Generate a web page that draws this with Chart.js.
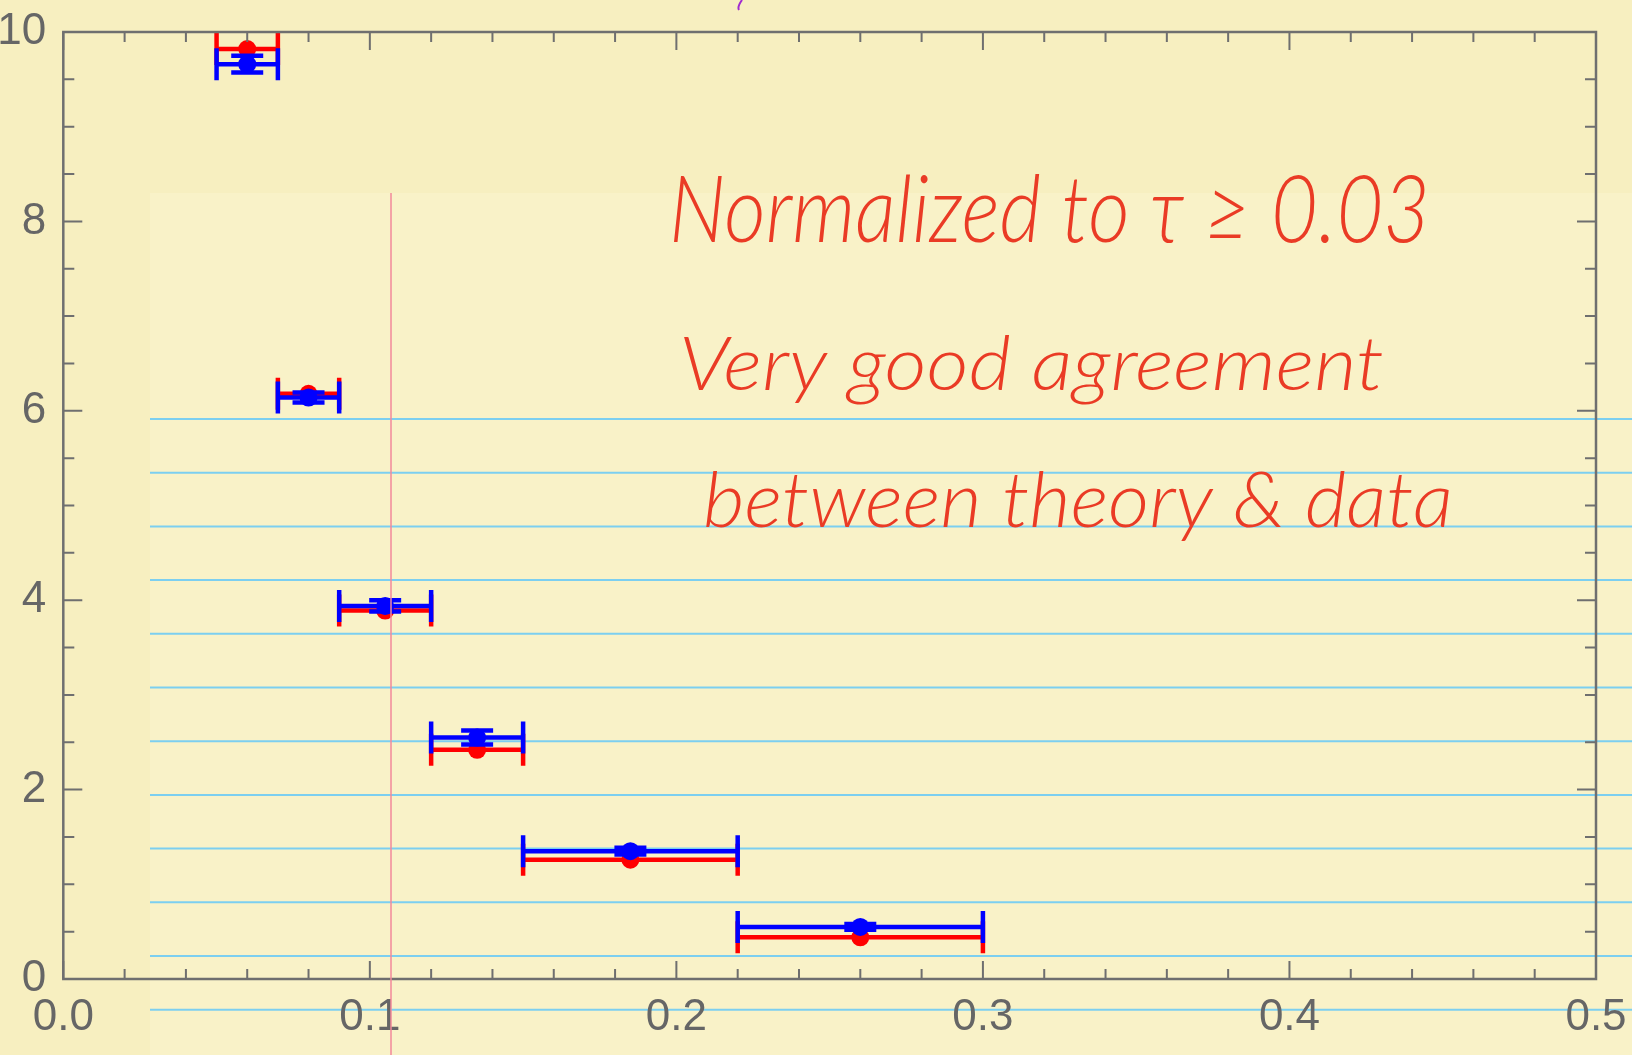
<!DOCTYPE html>
<html>
<head>
<meta charset="utf-8">
<script src="https://cdn.jsdelivr.net/npm/chart.js@4.4.0/dist/chart.umd.min.js"></script>
<style>
html, body { margin: 0; padding: 0; background: #f7efc0; }
canvas { display: block; }
</style>
</head>
<body>
<canvas id="out" width="1632" height="1055"></canvas>
<script>
// bin centres and horizontal error bar ends (same for both series)
const xCenters = [0.06, 0.08, 0.105, 0.135, 0.185, 0.26];
const xLow = [0.05, 0.07, 0.09, 0.12, 0.15, 0.22];
const xHigh = [0.07, 0.09, 0.12, 0.15, 0.22, 0.30];

// red series (no vertical errors) and blue series (small vertical errors)
const redValues = [9.82, 6.18, 3.89, 2.42, 1.26, 0.44];
const blueValues = [9.66, 6.14, 3.94, 2.55, 1.35, 0.55];
const blueErrors = [0.088, 0.053, 0.06, 0.075, 0.035, 0.03];

const xTickLabels = ["0.0", "0.1", "0.2", "0.3", "0.4", "0.5"];
const yTickLabels = ["0", "2", "4", "6", "8", "10"];

const notes = ["Normalized to \u03c4 \u2265 0.03", "Very good agreement", "between theory & data"];

const frameColor = "#6f6f6f";

// notebook paper behind the plot
const paper = {
	id: "paper",
	beforeDraw(chart) {
		const ctx = chart.ctx;
		ctx.save();
		ctx.fillStyle = "#f7efc0";
		ctx.fillRect(0, 0, chart.width, chart.height);
		ctx.fillStyle = "#f9f2c8";
		ctx.fillRect(150, 193, chart.width - 150, chart.height - 193);
		ctx.strokeStyle = "#7ccff0";
		ctx.lineWidth = 2;
		for (let ly = 419; ly < chart.height; ly += 53.7) {
			ctx.beginPath();
			ctx.moveTo(150, ly);
			ctx.lineTo(chart.width, ly);
			ctx.stroke();
		}
		// little purple pen mark at the top
		ctx.strokeStyle = "#a02ad0";
		ctx.lineWidth = 2;
		ctx.beginPath();
		ctx.moveTo(742, 0);
		ctx.quadraticCurveTo(737, 7, 739, 10);
		ctx.stroke();
		ctx.restore();
	}
};

// error bars drawn right before each dataset's points
const errorBars = {
	id: "errorBars",
	beforeDatasetDraw(chart, args) {
		const ds = chart.data.datasets[args.index];
		const ctx = chart.ctx;
		const xs = chart.scales.x;
		const ys = chart.scales.y;
		ctx.save();
		ctx.strokeStyle = ds.pointBackgroundColor;
		ctx.lineWidth = 4.5;
		ds.data.forEach((p, i) => {
			const py = ys.getPixelForValue(p.y);
			const lo = xs.getPixelForValue(ds.xLow[i]);
			const hi = xs.getPixelForValue(ds.xHigh[i]);
			ctx.beginPath();
			ctx.moveTo(lo, py);
			ctx.lineTo(hi, py);
			ctx.moveTo(lo, py - 16);
			ctx.lineTo(lo, py + 16);
			ctx.moveTo(hi, py - 16);
			ctx.lineTo(hi, py + 16);
			if (ds.yErr) {
				const px = xs.getPixelForValue(p.x);
				const top = ys.getPixelForValue(p.y + ds.yErr[i]);
				const bot = ys.getPixelForValue(p.y - ds.yErr[i]);
				ctx.moveTo(px, top);
				ctx.lineTo(px, bot);
				ctx.moveTo(px - 16, top);
				ctx.lineTo(px + 16, top);
				ctx.moveTo(px - 16, bot);
				ctx.lineTo(px + 16, bot);
			}
			ctx.stroke();
		});
		ctx.restore();
	}
};

// Mathematica style frame with inward ticks on all four sides, margin line and notes
const frame = {
	id: "frame",
	afterDraw(chart) {
		const ctx = chart.ctx;
		const a = chart.chartArea;
		const xs = chart.scales.x;
		const ys = chart.scales.y;
		ctx.save();
		ctx.strokeStyle = frameColor;
		ctx.lineWidth = 2;
		ctx.beginPath();
		for (let i = 0; i <= 25; i++) {
			const px = xs.getPixelForValue(i * 0.02);
			const len = i % 5 === 0 ? 18 : 10;
			ctx.moveTo(px, a.bottom);
			ctx.lineTo(px, a.bottom - len);
			ctx.moveTo(px, a.top);
			ctx.lineTo(px, a.top + len);
		}
		for (let i = 0; i <= 20; i++) {
			const py = ys.getPixelForValue(i * 0.5);
			const len = i % 4 === 0 ? 19 : 11;
			ctx.moveTo(a.left, py);
			ctx.lineTo(a.left + len, py);
			ctx.moveTo(a.right, py);
			ctx.lineTo(a.right - len, py);
		}
		ctx.stroke();
		ctx.lineWidth = 2.5;
		ctx.strokeRect(a.left, a.top, a.right - a.left, a.bottom - a.top);

		// red margin line of the paper
		ctx.strokeStyle = "#f2899b";
		ctx.lineWidth = 1.5;
		ctx.beginPath();
		ctx.moveTo(391, 193);
		ctx.lineTo(391, chart.height);
		ctx.stroke();

		// handwritten notes
		const boxes = [
			{x0: 669, x1: 1430, base: 242, size: 92},
			{x0: 679, x1: 1384, base: 390, size: 74},
			{x0: 703, x1: 1453, base: 527, size: 76}
		];
		ctx.fillStyle = "#ea3b25";
		ctx.textBaseline = "alphabetic";
		notes.forEach((t, i) => {
			const b = boxes[i];
			ctx.font = `italic 300 ${b.size}px Lato`;
			const w = ctx.measureText(t).width;
			ctx.save();
			ctx.translate(b.x0, b.base);
			ctx.scale((b.x1 - b.x0) / w, 1);
			ctx.fillText(t, 0, 0);
			ctx.restore();
		});
		ctx.restore();
	}
};

const tickFont = {family: "'Liberation Sans', Arial, sans-serif", size: 44};

const chartConfig = {
	type: "scatter",
	data: {
		datasets: [
			{
				label: "red",
				data: xCenters.map((x, i) => ({x: x, y: redValues[i]})),
				xLow: xLow,
				xHigh: xHigh,
				pointBackgroundColor: "#ff0000",
				pointBorderWidth: 0,
				pointRadius: 9,
				order: 2,
				clip: false
			}, {
				label: "blue",
				data: xCenters.map((x, i) => ({x: x, y: blueValues[i]})),
				xLow: xLow,
				xHigh: xHigh,
				yErr: blueErrors,
				pointBackgroundColor: "#0000ff",
				pointBorderWidth: 0,
				pointRadius: 9,
				order: 1,
				clip: false
			}
		]
	},
	options: {
		responsive: false,
		animation: false,
		events: [],
		layout: {padding: {top: 32, right: 36, left: 0, bottom: 0}},
		plugins: {
			legend: {display: false},
			tooltip: {enabled: false}
		},
		scales: {
			x: {
				type: "linear",
				min: 0,
				max: 0.5,
				grid: {display: false, drawTicks: false},
				border: {display: false},
				ticks: {
					stepSize: 0.1,
					autoSkip: false,
					maxRotation: 0,
					padding: 12,
					color: "#666666",
					font: tickFont,
					callback: (v, i) => xTickLabels[i]
				},
				afterFit(scale) {
					scale.height = 76;
					scale.paddingLeft = 0;
					scale.paddingRight = 0;
				}
			},
			y: {
				type: "linear",
				min: 0,
				max: 10,
				grid: {display: false, drawTicks: false},
				border: {display: false},
				ticks: {
					stepSize: 2,
					padding: 17,
					color: "#666666",
					font: tickFont,
					callback: (v, i) => yTickLabels[i]
				},
				afterFit(scale) {
					scale.width = 63.3;
					scale.paddingTop = 0;
					scale.paddingBottom = 0;
				}
			}
		}
	},
	plugins: [paper, errorBars, frame]
};

const canvasCtx = document.getElementById("out").getContext("2d");
window.chart = new Chart(canvasCtx, chartConfig);
</script>
</body>
</html>
